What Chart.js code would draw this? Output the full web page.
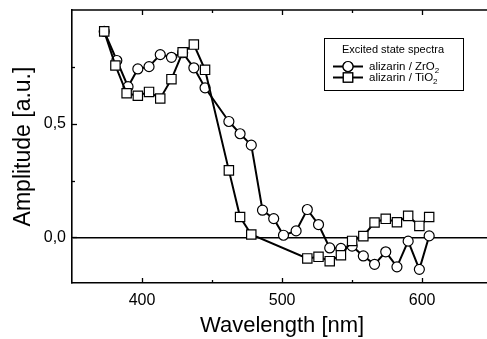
<!DOCTYPE html>
<html>
<head>
<meta charset="utf-8">
<script src="https://cdn.jsdelivr.net/npm/chart.js@4/dist/chart.umd.min.js"></script>
<style>
  html, body { margin: 0; padding: 0; background: #fff; overflow: hidden; }
  #wrap { width: 487px; height: 339px; overflow: hidden; }
</style>
</head>
<body>
<div id="wrap"><canvas id="chart" width="500" height="339"></canvas></div>
<script>
// wavelengths (nm) and amplitudes
const wlZr = [373, 382, 390, 397, 405, 413, 421, 429, 437, 445, 462, 470, 478, 486, 494, 501, 510, 518, 526, 534, 542, 550, 558, 566, 574, 582, 590, 598, 605];
const ampZr = [0.906, 0.778, 0.663, 0.741, 0.751, 0.804, 0.792, 0.812, 0.746, 0.658, 0.510, 0.456, 0.406, 0.120, 0.083, 0.010, 0.029, 0.123, 0.057, -0.046, -0.048, -0.038, -0.081, -0.118, -0.063, -0.129, -0.016, -0.140, 0.007];

const wlTi = [373, 381, 389, 397, 405, 413, 421, 429, 437, 445, 462, 470, 478, 518, 526, 534, 542, 550, 558, 566, 574, 582, 590, 598, 605];
const ampTi = [0.906, 0.756, 0.634, 0.623, 0.640, 0.611, 0.696, 0.814, 0.848, 0.737, 0.295, 0.090, 0.013, -0.092, -0.085, -0.104, -0.078, -0.015, 0.006, 0.066, 0.082, 0.067, 0.095, 0.051, 0.090];

const seriesNames = ['alizarin / ZrO', 'alizarin / TiO'];
const legendTitle = 'Excited state spectra';

const xMajor = [400, 500, 600];
const xMinor = [450, 550];
const yMajor = [0, 0.5];
const yMinor = [0.25, 0.75];

const FONT = '"Liberation Sans", Arial, sans-serif';

function toPoints(xs, ys) {
  return xs.map((x, i) => ({ x: x, y: ys[i] }));
}

// inward ticks on bottom, top and left + top frame line
const frameTicks = {
  id: 'frameTicks',
  afterDraw(chart) {
    const ctx = chart.ctx;
    const a = chart.chartArea;
    const xs = chart.scales.x, ys = chart.scales.y;
    ctx.save();
    ctx.strokeStyle = '#000';
    ctx.lineWidth = 1.6;
    ctx.beginPath();
    ctx.moveTo(a.left, a.top);
    ctx.lineTo(a.right, a.top);
    ctx.stroke();
    ctx.lineWidth = 1.3;
    const xt = (v, len) => {
      const p = Math.round(xs.getPixelForValue(v)) + 0.5;
      ctx.beginPath();
      ctx.moveTo(p, a.bottom); ctx.lineTo(p, a.bottom - len);
      ctx.moveTo(p, a.top); ctx.lineTo(p, a.top + len);
      ctx.stroke();
    };
    const yt = (v, len) => {
      const p = Math.round(ys.getPixelForValue(v)) + 0.5;
      ctx.beginPath();
      ctx.moveTo(a.left, p); ctx.lineTo(a.left + len, p);
      ctx.stroke();
    };
    xMajor.forEach(v => xt(v, 5));
    xMinor.forEach(v => xt(v, 3));
    yMajor.forEach(v => yt(v, 5));
    yMinor.forEach(v => yt(v, 3));
    ctx.restore();
  }
};

// legend box with line+marker samples and subscripts
const boxLegend = {
  id: 'boxLegend',
  afterDraw(chart) {
    const ctx = chart.ctx;
    const bx = 324.5, by = 38.5, bw = 139, bh = 52;
    ctx.save();
    ctx.fillStyle = '#fff';
    ctx.fillRect(bx, by, bw, bh);
    ctx.strokeStyle = '#000';
    ctx.lineWidth = 1;
    ctx.strokeRect(bx, by, bw, bh);
    ctx.fillStyle = '#000';
    ctx.font = '11px ' + FONT;
    ctx.textAlign = 'center';
    ctx.textBaseline = 'middle';
    ctx.fillText(legendTitle, 393, 50);
    const rows = [66.5, 77.5];
    chart.data.datasets.forEach((ds, i) => {
      const y = rows[i];
      ctx.lineWidth = 2;
      ctx.strokeStyle = '#000';
      ctx.beginPath();
      ctx.moveTo(333, y); ctx.lineTo(363, y);
      ctx.stroke();
      ctx.fillStyle = '#fff';
      ctx.lineWidth = 1.2;
      Chart.helpers.drawPoint(ctx, { pointStyle: ds.pointStyle, radius: ds.pointRadius, rotation: 0, borderWidth: 1.2 }, 348, y);
      ctx.fill();
      ctx.stroke();
      ctx.fillStyle = '#000';
      ctx.font = '11.5px ' + FONT;
      ctx.textAlign = 'left';
      ctx.fillText(seriesNames[i], 369, y);
      const w = ctx.measureText(seriesNames[i]).width;
      ctx.font = '8px ' + FONT;
      ctx.fillText('2', 369 + w, y + 4);
    });
    ctx.restore();
  }
};

new Chart(document.getElementById('chart'), {
  type: 'line',
  data: {
    datasets: [
      {
        label: seriesNames[0] + '2',
        data: toPoints(wlZr, ampZr),
        borderColor: '#000',
        borderWidth: 2,
        pointStyle: 'circle',
        pointRadius: 5,
        pointBorderWidth: 1.2,
        pointBackgroundColor: '#fff',
        pointBorderColor: '#000',
        tension: 0,
        order: 2
      },
      {
        label: seriesNames[1] + '2',
        data: toPoints(wlTi, ampTi),
        borderColor: '#000',
        borderWidth: 2,
        pointStyle: 'rect',
        pointRadius: 6.6,
        pointBorderWidth: 1.2,
        pointBackgroundColor: '#fff',
        pointBorderColor: '#000',
        tension: 0,
        order: 1
      }
    ]
  },
  options: {
    responsive: false,
    animation: false,
    layout: { padding: { top: 10, right: 2, left: 0, bottom: 0 } },
    plugins: {
      legend: { display: false },
      tooltip: { enabled: false }
    },
    scales: {
      x: {
        type: 'linear',
        min: 350,
        max: 650,
        afterBuildTicks: s => { s.ticks = xMajor.map(v => ({ value: v })); },
        afterFit: s => { s.height = 56; s.paddingLeft = 0; s.paddingRight = 0; },
        border: { display: true, color: '#000', width: 1.6 },
        grid: { display: false, drawTicks: false },
        ticks: {
          color: '#000',
          font: { family: FONT, size: 16 },
          padding: 8,
          maxRotation: 0,
          callback: v => String(v)
        },
        title: {
          display: true,
          text: 'Wavelength [nm]',
          color: '#000',
          font: { family: FONT, size: 22 },
          padding: { top: 3, bottom: 0 }
        }
      },
      y: {
        type: 'linear',
        min: -0.2,
        max: 1.0,
        afterBuildTicks: s => { s.ticks = yMajor.map(v => ({ value: v })); },
        afterFit: s => { s.width = 72; s.paddingTop = 0; s.paddingBottom = 0; },
        border: { display: true, color: '#000', width: 1.6 },
        grid: {
          drawTicks: false,
          lineWidth: 1.5,
          color: c => (c.tick && c.tick.value === 0 ? '#000' : 'rgba(0,0,0,0)')
        },
        ticks: {
          color: '#000',
          font: { family: FONT, size: 16 },
          padding: 6,
          callback: v => v.toFixed(1).replace('.', ',')
        },
        title: {
          display: true,
          text: 'Amplitude [a.u.]',
          color: '#000',
          font: { family: FONT, size: 23 },
          padding: { top: 10, bottom: 0 }
        }
      }
    }
  },
  plugins: [frameTicks, boxLegend]
});
</script>
</body>
</html>
